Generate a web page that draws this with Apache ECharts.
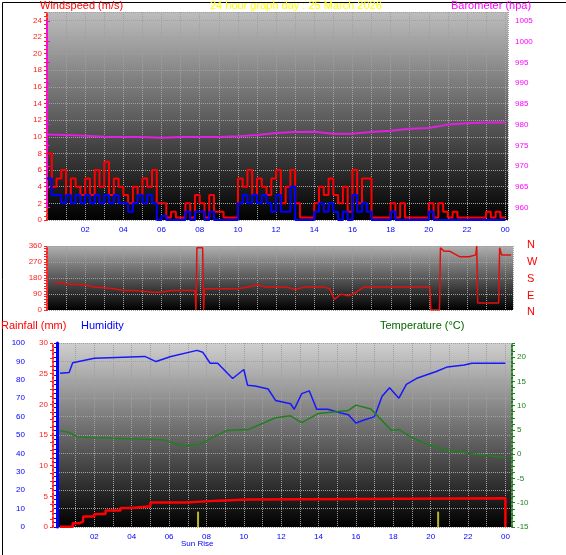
<!DOCTYPE html>
<html>
<head>
<meta charset="utf-8">
<title>24 hour graph</title>
<script src="https://cdn.jsdelivr.net/npm/echarts@6/dist/echarts.min.js"></script>
<style>
  body { margin: 0; background: #fff; }
  #main { width: 566px; height: 555px; }
</style>
</head>
<body>
<div id="main"></div>
<script>
// wind, 15 minute steps from 00:00
var windGust = [8,4,5,6, 3,5,4,3, 5,3,6,4, 7,3,5,4, 3,2,4,3, 5,4,6,2,
  2,0.3,1,0.3, 0.3,2,0.3,3, 2,0.3,3,1, 1,0.3,0.3,0.3, 5,4,6,3, 5,4,3,5,
  6,2,4,6, 2,0.3,0.3,0.3, 2,4,3,5, 3,2,4,1, 6,2,5,5, 0.3,0.3,0.3,0.3,
  2,0.3,2,0.3, 0.3,0.3,0.3,0.3, 2,0.3,2,1, 0.3,1,0.3,0.3, 0.3,0.3,0.3,0.3, 1,0.3,1,0.3, 0.3];
var windAvg = [5,3,3,2, 3,2,3,2, 3,2,3,2, 3,2,3,2, 2,1,2,3, 2,3,2,0,
  0.5,0,0,0, 0,1,0,1, 1,0,1,0, 0,0,0,0, 2,3,2,3, 2,3,2,1,
  3,1,1,4, 0,0,0,0, 1,2,1,2, 1,0,1,0, 3,1,2,1, 0,0,0,0,
  1,0,0,0, 0,0,0,0, 1,0,0,0, 0,0,0,0, 0,0,0,0, 0,0,0,0, 0];
var baroHours = [0,1,2,3,4,5,6,7,8,9,10,11,12,13,14,15,16,17,18,19,20,21,22,23,24];
var baro = [977.6,977.5,977.3,977.1,977,977,976.8,977,977,977,977.2,977.5,978,978.2,978.3,977.8,977.8,978.2,978.5,979,979.2,980,980.3,980.5,980.5];
var dirHours = [0.4,0.8,1,1.5,2,2.5,3,3.5,4,4.5,5,5.5,6,6.5,7,7.5,7.75,7.8,7.85,8.15,8.2,8.25,9,10,10.5,11,11.5,12,12.5,13,13.5,14,14.5,14.8,15.05,15.4,15.8,16.2,16.6,17,18,19,20.05,20.1,20.55,20.6,20.8,21.1,21.6,22.1,22.45,22.5,22.55,23.65,23.7,23.8,24.3];
var dirValues = [150,155,145,145,140,130,125,120,110,110,105,100,100,110,110,110,110,0,350,350,0,120,120,120,130,140,130,130,130,115,130,130,130,120,60,90,80,100,130,130,130,130,130,0,0,350,330,330,300,300,310,360,40,40,350,310,310];
var humHours = [0.16,0.65,0.84,2,4.7,5.3,6.1,7.5,7.8,8.2,8.6,9.4,10,10.2,10.6,11.3,11.7,12.5,12.7,13.1,13.5,13.9,14.5,15.2,15.6,16,16.4,17,17.4,17.8,18.3,18.7,19.3,20.3,20.9,21.8,22.2,24];
var humidity = [83.5,84,89.3,91.7,92.7,89.9,92.7,96,95,89,89,80.7,85.6,77,76.6,75,68.8,67,64,72.5,74,64,64,62,61,56.5,58,60,71,75.7,70,77.5,81,84.5,87,88,89,89];
var tempHours = [0.16,0.65,1.04,1.97,3.7,5.1,5.7,6.1,6.9,7.7,8.2,9.1,10,10.2,11.7,12.5,13.1,14,15.6,16,16.8,17.9,18.3,18.9,19.7,20.6,21.5,22.2,24];
var temperature = [4.8,4.5,3.6,3.4,3.2,3,2.9,2.4,1.7,2.1,3.2,4.9,5.1,5,7.5,7.9,6.5,8.4,9,10.1,9.3,4.9,5.1,3.6,2.2,1,0.5,0.1,-0.7];
var rainHours = [0.16,0.84,1.2,1.4,2,2.6,3.4,4,5,6.9,8.6,10.2,24,24];
var rainfall = [0.05,0.6,0.9,1.7,2.1,2.7,3.1,3.4,4,4.3,4.5,4.7,4.7,0];
var sunHours = [7.55, 20.4];
var sunBarHeight = 2.5;

function pairs(xs, ys) { return ys.map(function (v, i) { return [xs[i], v]; }); }
function quarter(ys) { return ys.map(function (v, i) { return [i * 0.25, v]; }); }
function hourLabel(v) {
  if (v % 2 !== 0 || v === 0 || v > 24) return '';
  var h = v % 24;
  return (h < 10 ? '0' : '') + h;
}
function bg(c) {
  return { type: 'linear', x: 0, y: 0, x2: 0, y2: 1,
    colorStops: [{ offset: 0, color: c }, { offset: 1, color: '#000' }] };
}
var dots = { color: '#a0a0a0', type: 'dotted', width: 1 };
function xAx(idx, max, labels) {
  return { type: 'value', gridIndex: idx, min: 0, max: max, interval: 1,
    axisLine: { show: false }, axisTick: { show: false },
    splitLine: { show: true, lineStyle: dots },
    axisLabel: { show: labels, formatter: hourLabel, color: '#0000ff', fontSize: 8, margin: 6,
      fontFamily: 'Liberation Sans', showMaxLabel: false } };
}
function yAx(idx, min, max, interval, color, opts) {
  var a = { type: 'value', gridIndex: idx, min: min, max: max, interval: interval, position: 'left',
    axisLine: { show: true, lineStyle: { color: color, type: 'dotted', width: 2 } },
    axisTick: { show: true, length: 3, lineStyle: { color: color } },
    minorTick: { show: true, splitNumber: 4, length: 3, lineStyle: { color: color } },
    splitLine: { show: false },
    axisLabel: { color: color, fontSize: 8, fontFamily: 'Liberation Sans', margin: 5 } };
  for (var k in opts) a[k] = opts[k];
  return a;
}
var txt = function (x, y, s, c, size) {
  return { type: 'text', left: x, top: y, style: { text: s, fill: c, fontSize: size || 11,
    fontFamily: 'Liberation Sans' } };
};

var baroX = xAx(3, 24.15, false);
baroX.splitLine = { show: false };

var chart = echarts.init(document.getElementById('main'));
chart.setOption({
  animation: false,
  grid: [
    { left: 47, right: 58, top: 12, bottom: 335, show: true, backgroundColor: bg('#bdbdbd'), borderWidth: 0 },
    { left: 47, right: 53, top: 246, bottom: 245, show: true, backgroundColor: bg('#b0b0b0'), borderWidth: 0 },
    { left: 57, right: 55, top: 343, bottom: 28, show: true, backgroundColor: bg('#cfcfcf'), borderWidth: 0 },
    // barometer scale: 1005 at y=21, 960 at y=207.5
    { left: 47, right: 58, top: 21, bottom: 347.5 }
  ],
  xAxis: [xAx(0, 24.15, true), xAx(1, 24.4, false), xAx(2, 24.3, true), baroX],
  yAxis: [
    yAx(0, 0, 25, 2, '#ff2020', { splitLine: { show: true, lineStyle: dots },
      axisLabel: { color: '#ff2020', fontSize: 8, margin: 5, formatter: function (v) { return v > 24 ? '' : v; } } }),
    yAx(3, 960, 1005, 5, '#ff00ff', { position: 'right', offset: 2, minorTick: { show: false },
      axisLabel: { color: '#ff00ff', fontSize: 8, margin: 5, formatter: function (v) { return String(v); } } }),
    yAx(1, 0, 360, 90, '#ff2020', { splitLine: { show: true, lineStyle: dots },
      minorTick: { show: true, splitNumber: 6, length: 3, lineStyle: { color: '#ff2020' } } }),
    yAx(2, 0, 100, 10, '#0000ff', { offset: 27, axisLine: { show: true, lineStyle: { color: '#0000ff', width: 3 } },
      splitLine: { show: true, lineStyle: dots } }),
    yAx(2, 0, 30, 5, '#ff2020', { offset: 4 }),
    yAx(2, -15, 22.9, 5, '#208020', { position: 'right', offset: 1,
      axisLabel: { color: '#208020', fontSize: 8, margin: 5, formatter: function (v) { return v > 20 ? '' : v; } } })
  ],
  series: [
    { type: 'line', xAxisIndex: 0, yAxisIndex: 0, data: quarter(windGust), step: 'end', symbol: 'none',
      lineStyle: { color: '#ff0000', width: 2 } },
    { type: 'line', xAxisIndex: 0, yAxisIndex: 0, data: quarter(windAvg), step: 'end', symbol: 'none',
      lineStyle: { color: '#0000ff', width: 2 } },
    { type: 'line', xAxisIndex: 3, yAxisIndex: 1, data: pairs(baroHours, baro), symbol: 'none',
      lineStyle: { color: '#e020e0', width: 2 } },
    { type: 'line', xAxisIndex: 1, yAxisIndex: 2, data: pairs(dirHours, dirValues), symbol: 'none',
      lineStyle: { color: '#e01010', width: 1.5 } },
    { type: 'line', xAxisIndex: 2, yAxisIndex: 3, data: pairs(humHours, humidity), symbol: 'none',
      lineStyle: { color: '#1818ff', width: 1.5 } },
    { type: 'line', xAxisIndex: 2, yAxisIndex: 5, data: pairs(tempHours, temperature), symbol: 'none',
      lineStyle: { color: '#208020', width: 1.5 } },
    { type: 'line', xAxisIndex: 2, yAxisIndex: 4, data: pairs(rainHours, rainfall), step: 'end', symbol: 'none',
      lineStyle: { color: '#ff0000', width: 2.5 } },
    { type: 'line', xAxisIndex: 2, yAxisIndex: 4, data: [[sunHours[0], 0], [sunHours[0], sunBarHeight]], symbol: 'none',
      lineStyle: { color: '#b8b820', width: 2 } },
    { type: 'line', xAxisIndex: 2, yAxisIndex: 4, data: [[sunHours[1], 0], [sunHours[1], sunBarHeight]], symbol: 'none',
      lineStyle: { color: '#b8b820', width: 2 } }
  ],
  graphic: [
    { type: 'rect', left: 0, top: 0, shape: { width: 565, height: 554 }, style: { fill: 'none', stroke: '#000', lineWidth: 1 } },
    txt(40, 0, 'Windspeed (m/s)', '#ff0000'),
    txt(210, 0, '24 hour graph day : 25 March 2026', '#ffff00'),
    txt(451, 0, 'Barometer (hpa)', '#ff00ff'),
    txt(1, 320, 'Rainfall (mm)', '#ff0000'),
    txt(81, 320, 'Humidity', '#0000ff'),
    txt(380, 320, 'Temperature (°C)', '#006600'),
    txt(527, 239, 'N', '#ff0000'),
    txt(527, 256, 'W', '#ff0000'),
    txt(527, 273, 'S', '#ff0000'),
    txt(527, 290, 'E', '#ff0000'),
    txt(527, 306, 'N', '#ff0000'),
    txt(181, 540, 'Sun Rise', '#0000ff', 8)
  ]
});
</script>
</body>
</html>
